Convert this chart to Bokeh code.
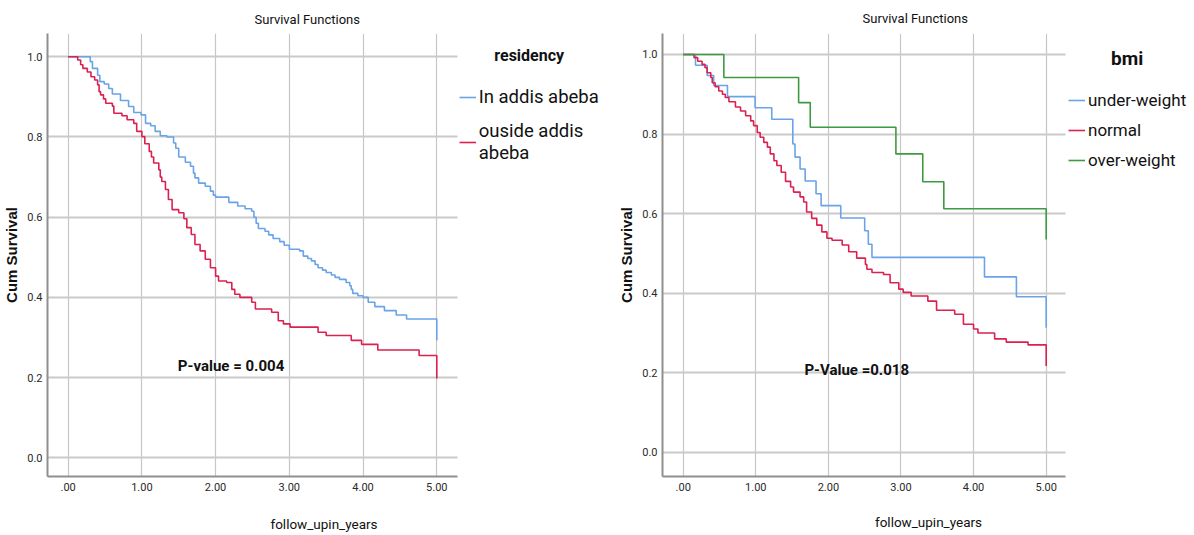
from bokeh.plotting import figure
from bokeh.models import Range1d, FixedTicker, Label, Legend, LegendItem
from bokeh.layouts import row
from bokeh.embed import file_html
from bokeh.resources import INLINE

# ---------------- data ----------------
x_ticks = [0, 1, 2, 3, 4, 5]
x_tick_labels = [".00", "1.00", "2.00", "3.00", "4.00", "5.00"]
y_ticks = [0.0, 0.2, 0.4, 0.6, 0.8, 1.0]
y_tick_labels = ["0.0", "0.2", "0.4", "0.6", "0.8", "1.0"]

# residency: In addis abeba
in_addis_t = [0.00, 0.30, 0.33, 0.40, 0.43, 0.49, 0.55, 0.60, 0.71, 0.82, 0.89, 0.99,
              1.05, 1.12, 1.18, 1.25, 1.34, 1.43, 1.46, 1.50, 1.59, 1.66, 1.70, 1.72,
              1.77, 1.86, 1.93, 1.97, 2.00, 2.18, 2.30, 2.40, 2.49, 2.52, 2.55, 2.58,
              2.67, 2.72, 2.78, 2.87, 2.93, 3.00, 3.14, 3.19, 3.25, 3.30, 3.35, 3.39,
              3.45, 3.50, 3.57, 3.62, 3.68, 3.77, 3.82, 3.84, 3.86, 3.93, 4.00, 4.07,
              4.16, 4.29, 4.45, 4.59, 5.00]
in_addis_s = [1.000, 0.988, 0.971, 0.954, 0.938, 0.932, 0.921, 0.907, 0.891, 0.876, 0.861, 0.855,
              0.834, 0.828, 0.814, 0.803, 0.800, 0.785, 0.772, 0.750, 0.737, 0.727, 0.710, 0.698,
              0.685, 0.677, 0.665, 0.655, 0.650, 0.637, 0.628, 0.621, 0.615, 0.600, 0.585, 0.572,
              0.565, 0.556, 0.547, 0.539, 0.530, 0.520, 0.516, 0.503, 0.497, 0.491, 0.482, 0.474,
              0.468, 0.462, 0.456, 0.450, 0.445, 0.437, 0.429, 0.420, 0.410, 0.404, 0.400, 0.388,
              0.377, 0.367, 0.356, 0.346, 0.293]

# residency: ouside addis abeba
outside_t = [0.00, 0.13, 0.17, 0.20, 0.26, 0.31, 0.36, 0.40, 0.42, 0.44, 0.48, 0.51,
             0.60, 0.62, 0.73, 0.80, 0.89, 0.93, 1.00, 1.04, 1.10, 1.13, 1.16, 1.23,
             1.25, 1.27, 1.32, 1.36, 1.41, 1.50, 1.57, 1.61, 1.67, 1.72, 1.79, 1.86,
             1.93, 2.00, 2.04, 2.15, 2.22, 2.26, 2.33, 2.49, 2.54, 2.76, 2.85, 2.92,
             3.01, 3.39, 3.50, 3.84, 3.98, 4.20, 4.76, 5.00]
outside_s = [1.000, 0.992, 0.980, 0.971, 0.962, 0.950, 0.942, 0.930, 0.913, 0.905, 0.895, 0.884,
             0.877, 0.859, 0.853, 0.843, 0.834, 0.814, 0.801, 0.783, 0.764, 0.750, 0.735, 0.718,
             0.700, 0.689, 0.669, 0.644, 0.619, 0.611, 0.596, 0.574, 0.557, 0.532, 0.516, 0.495,
             0.474, 0.453, 0.441, 0.437, 0.420, 0.408, 0.400, 0.388, 0.371, 0.363, 0.342, 0.334,
             0.326, 0.313, 0.305, 0.293, 0.283, 0.269, 0.255, 0.198]

# bmi: under-weight
under_t = [0.00, 0.17, 0.33, 0.42, 0.61, 0.99, 1.22, 1.51, 1.54, 1.61, 1.68, 1.83,
           1.90, 2.17, 2.50, 2.55, 2.60, 4.15, 4.59, 5.00]
under_s = [1.000, 0.973, 0.947, 0.922, 0.894, 0.866, 0.837, 0.775, 0.742, 0.712, 0.682, 0.650,
           0.620, 0.589, 0.557, 0.523, 0.490, 0.441, 0.391, 0.313]

# bmi: normal
normal_t = [0.00, 0.15, 0.20, 0.26, 0.30, 0.33, 0.38, 0.40, 0.44, 0.49, 0.54, 0.58,
            0.63, 0.72, 0.79, 0.86, 0.93, 0.97, 1.02, 1.06, 1.11, 1.16, 1.20, 1.25,
            1.29, 1.35, 1.41, 1.48, 1.52, 1.61, 1.66, 1.70, 1.77, 1.84, 1.91, 1.98,
            2.05, 2.19, 2.28, 2.39, 2.51, 2.53, 2.60, 2.76, 2.85, 2.97, 3.03, 3.14,
            3.37, 3.49, 3.74, 3.86, 4.00, 4.06, 4.29, 4.45, 4.75, 5.00]
normal_s = [1.000, 0.992, 0.983, 0.975, 0.967, 0.954, 0.942, 0.929, 0.919, 0.908, 0.900, 0.892,
            0.881, 0.868, 0.858, 0.846, 0.833, 0.821, 0.804, 0.792, 0.779, 0.767, 0.750, 0.733,
            0.721, 0.704, 0.681, 0.667, 0.654, 0.642, 0.629, 0.604, 0.588, 0.571, 0.554, 0.538,
            0.533, 0.521, 0.504, 0.488, 0.472, 0.460, 0.452, 0.447, 0.426, 0.410, 0.402, 0.393,
            0.380, 0.357, 0.347, 0.322, 0.310, 0.300, 0.285, 0.277, 0.270, 0.217]

# bmi: over-weight
over_t = [0.00, 0.56, 1.59, 1.75, 2.93, 3.30, 3.59, 5.00]
over_s = [1.000, 0.942, 0.879, 0.817, 0.750, 0.680, 0.612, 0.535]

# ---------------- style ----------------
BLUE = "#6aa3e8"
RED = "#dc2050"
GREEN = "#3f9a3f"
FONT = "Roboto"
REG = "Liberation Sans"
TXT = "#111111"


def make_fig(width, height, bl, bt, bb, xr, axis_end, yr, title_offset, title_standoff,
             xlabel_standoff):
    p = figure(width=width, height=height, x_range=Range1d(*xr), y_range=Range1d(*yr),
               output_backend="svg", toolbar_location=None,
               min_border_left=bl, min_border_right=0, min_border_top=bt, min_border_bottom=bb)
    p.outline_line_color = None
    p.background_fill_color = "white"
    p.border_fill_color = "white"
    p.title.text = "Survival Functions"
    p.title.align = "left"
    p.title.offset = title_offset
    p.title.text_font = FONT
    p.title.text_font_size = "13px"
    p.title.text_font_style = "normal"
    p.title.text_color = TXT
    p.title.standoff = title_standoff

    for ax in (p.xaxis[0], p.yaxis[0]):
        ax.axis_line_color = "#8f8f8f"
        ax.axis_line_width = 2
        ax.major_tick_line_color = None
        ax.minor_tick_line_color = None
        ax.major_tick_out = 0
        ax.major_tick_in = 0
        ax.major_label_text_font = FONT
        ax.major_label_text_font_size = "11px"
        ax.major_label_text_color = "#2a2a2a"
        ax.axis_label_text_color = TXT

    p.xaxis.bounds = (xr[0], axis_end)
    p.xaxis.ticker = FixedTicker(ticks=x_ticks)
    p.xaxis.major_label_overrides = dict(zip(x_ticks, x_tick_labels))
    p.xaxis.major_label_standoff = 6
    p.xaxis.axis_label = "follow_upin_years"
    p.xaxis.axis_label_text_font = FONT
    p.xaxis.axis_label_text_font_size = "13.5px"
    p.xaxis.axis_label_text_font_style = "normal"
    p.xaxis.axis_label_standoff = xlabel_standoff

    p.yaxis.ticker = FixedTicker(ticks=y_ticks)
    p.yaxis.major_label_overrides = dict(zip(y_ticks, y_tick_labels))
    p.yaxis.major_label_standoff = 5
    p.yaxis.axis_label = "Cum Survival"
    p.yaxis.axis_label_text_font = REG
    p.yaxis.axis_label_text_font_size = "15px"
    p.yaxis.axis_label_text_font_style = "bold"
    p.yaxis.axis_label_standoff = 4

    p.xgrid.ticker = FixedTicker(ticks=x_ticks)
    p.ygrid.ticker = FixedTicker(ticks=y_ticks)
    p.ygrid.cross_bounds = (xr[0], axis_end)
    p.xgrid.grid_line_color = "#c6c6c6"
    p.xgrid.grid_line_width = 1.2
    p.ygrid.grid_line_color = "#cacaca"
    p.ygrid.grid_line_width = 2
    return p


def add_legend(p, renderers, labels, loc, spacing, label_size, title, title_xy, title_size):
    items = [LegendItem(label=l, renderers=[r]) for l, r in zip(labels, renderers)]
    lg = Legend(items=items, location=loc, orientation="vertical")
    lg.border_line_color = None
    lg.background_fill_alpha = 0
    lg.padding = 0
    lg.margin = 0
    lg.spacing = spacing
    lg.glyph_width = 17
    lg.glyph_height = 16
    lg.label_standoff = 3
    lg.label_text_font = FONT
    lg.label_text_font_size = label_size
    lg.label_text_color = TXT
    p.add_layout(lg, "center")
    p.add_layout(Label(x=title_xy[0], y=title_xy[1], x_units="screen", y_units="screen",
                       text=title, text_align="center", text_baseline="middle",
                       text_font=FONT, text_font_size=title_size, text_font_style="bold",
                       text_color=TXT))


# ---------------- left chart ----------------
p1 = make_fig(600, 535, 45, 32, 59, (-0.2797, 7.2203), 5.278, (-0.0465, 1.0580), 207, 14, 22)
r1 = p1.step(in_addis_t, in_addis_s, mode="after", line_color=BLUE, line_width=1.6)
r2 = p1.step(outside_t, outside_s, mode="after", line_color=RED, line_width=1.6)
add_legend(p1, [r1, r2], ["In addis abeba", "ouside addis\nabeba"], (411.7, 311.8), 12,
           "18.5px", "residency", (481.7, 421), "16px")
p1.add_layout(Label(x=2.21, y=0.228, text="P-value = 0.004", text_align="center",
                    text_baseline="middle", text_font=FONT, text_font_size="15px",
                    text_font_style="bold", text_color=TXT))

# ---------------- right chart ----------------
p2 = make_fig(594, 535, 62, 32, 59, (-0.285, 7.043), 5.27, (-0.0609, 1.0527), 200, 16, 20)
r3 = p2.step(under_t, under_s, mode="after", line_color=BLUE, line_width=1.6)
r4 = p2.step(normal_t, normal_s, mode="after", line_color=RED, line_width=1.6)
r5 = p2.step(over_t, over_s, mode="after", line_color=GREEN, line_width=1.6)
add_legend(p2, [r3, r4, r5], ["under-weight", "normal", "over-weight"], (406, 306), 10,
           "17px", "bmi", (464.7, 417.7), "19px")
p2.add_layout(Label(x=2.39, y=0.207, text="P-Value =0.018", text_align="center",
                    text_baseline="middle", text_font=FONT, text_font_size="15px",
                    text_font_style="bold", text_color=TXT))

layout = row(p1, p2)
open("out.html", "w").write(file_html(layout, INLINE))
